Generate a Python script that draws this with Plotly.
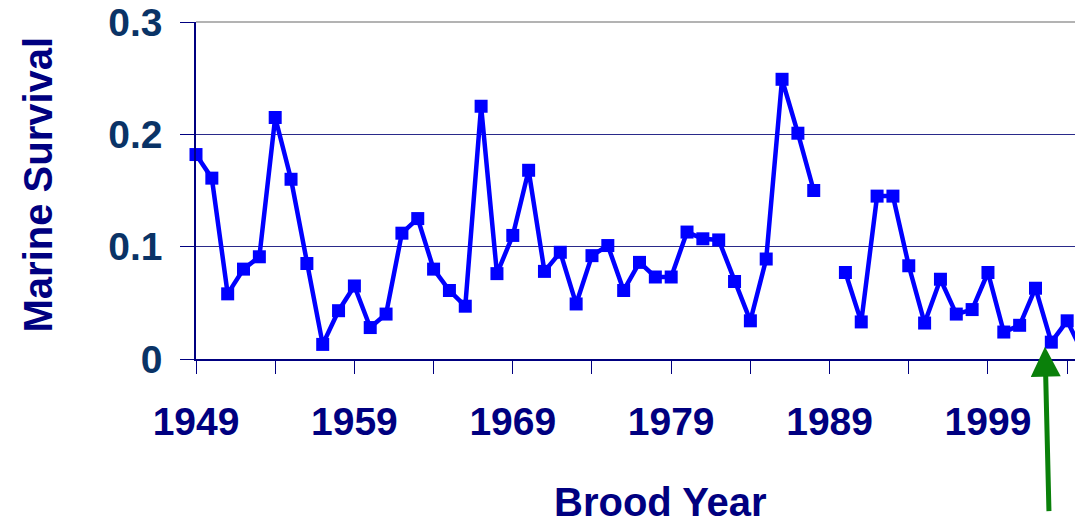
import plotly.graph_objects as go

years = list(range(1949, 2006))
survival = [
    0.182, 0.161, 0.058, 0.080, 0.091, 0.215, 0.160, 0.085, 0.013, 0.043,
    0.065, 0.028, 0.040, 0.112, 0.125, 0.080, 0.061, 0.047, 0.225, 0.076,
    0.110, 0.168, 0.078, 0.095, 0.049, 0.092, 0.101, 0.061, 0.086, 0.073,
    0.073, 0.113, 0.107, 0.106, 0.069, 0.034, 0.089, 0.249, 0.201, 0.150,
    None, 0.077, 0.033, 0.145, 0.145, 0.083, 0.032, 0.071, 0.040, 0.044,
    0.077, 0.024, 0.030, 0.063, 0.015, 0.034, 0.005,
]
x_tickvals = list(range(1949, 2005, 5))
x_ticktext = ["1949", "", "1959", "", "1969", "", "1979", "", "1989", "", "1999", ""]
y_tickvals = [0, 0.1, 0.2, 0.3]
y_ticktext = ["0", "0.1", "0.2", "0.3"]
arrow_year, arrow_value = 2002.6, 0.011

NAVY = "#000080"
FONT = "Liberation Sans"

# page body has an 8px offset; figure sized to compensate
OFF = 8
W, H = 1083 - OFF, 521 - OFF
L, T = 196 - OFF, 22 - OFF
B = H - (359 - OFF)
PW, PH = W - L, H - T - B

fig = go.Figure()
fig.add_trace(go.Scatter(
    x=years, y=survival, mode="lines+markers",
    line=dict(color="#0000ff", width=4.5),
    marker=dict(symbol="square", size=13, color="#0000ff"),
    connectgaps=False, cliponaxis=False, showlegend=False,
))

fig.update_layout(
    width=W, height=H,
    margin=dict(l=L, r=0, t=T, b=B, autoexpand=False),
    plot_bgcolor="white", paper_bgcolor="white",
    font=dict(family=FONT),
)
fig.update_xaxes(
    range=[1949, 2005], tickmode="array", tickvals=x_tickvals, ticktext=x_ticktext,
    ticks="outside", ticklen=13, tickcolor=NAVY, tickwidth=1,
    showline=True, linecolor=NAVY, linewidth=1.5,
    showgrid=False, zeroline=False, automargin=False,
    tickfont=dict(family=FONT, size=39, color=NAVY, weight="bold"),
    ticklabelstandoff=14, ticklabeloverflow="allow",
)
fig.update_yaxes(
    range=[0, 0.3], tickmode="array", tickvals=y_tickvals, ticktext=y_ticktext,
    ticks="outside", ticklen=14, tickcolor=NAVY, tickwidth=1,
    showline=True, linecolor=NAVY, linewidth=1.5,
    showgrid=True, gridcolor="#2a2a8a", gridwidth=1, zeroline=False, automargin=False,
    tickfont=dict(family=FONT, size=39, color="#0a3366", weight="bold"),
    ticklabelstandoff=10, ticklabeloverflow="allow",
)
# gray border top/right
fig.add_shape(type="line", xref="paper", yref="paper", x0=0, x1=1, y0=1, y1=1,
              line=dict(color="#9a9a9a", width=1.5), layer="between")
fig.add_shape(type="line", xref="paper", yref="paper", x0=1, x1=1, y0=0, y1=1,
              line=dict(color="#9a9a9a", width=1.5), layer="between")

fig.add_annotation(text="<b>Marine Survival</b>", xref="paper", yref="paper",
                   x=(37 - 196) / PW, y=0.5 + 6 / PH, textangle=-90, showarrow=False,
                   font=dict(family=FONT, size=40, color=NAVY),
                   xanchor="center", yanchor="middle")
fig.add_annotation(text="<b>Brood Year</b>", xref="paper", yref="paper",
                   x=(660 - 196) / PW, y=-(502 - 359) / PH, showarrow=False,
                   font=dict(family=FONT, size=40, color=NAVY),
                   xanchor="center", yanchor="middle")
fig.add_annotation(text="", x=arrow_year, y=arrow_value, xref="x", yref="y",
                   showarrow=True, ax=4, ay=166, arrowcolor="#0a800a",
                   arrowwidth=5, arrowhead=2, arrowsize=1.2, standoff=0)

fig.write_html("out.html")
